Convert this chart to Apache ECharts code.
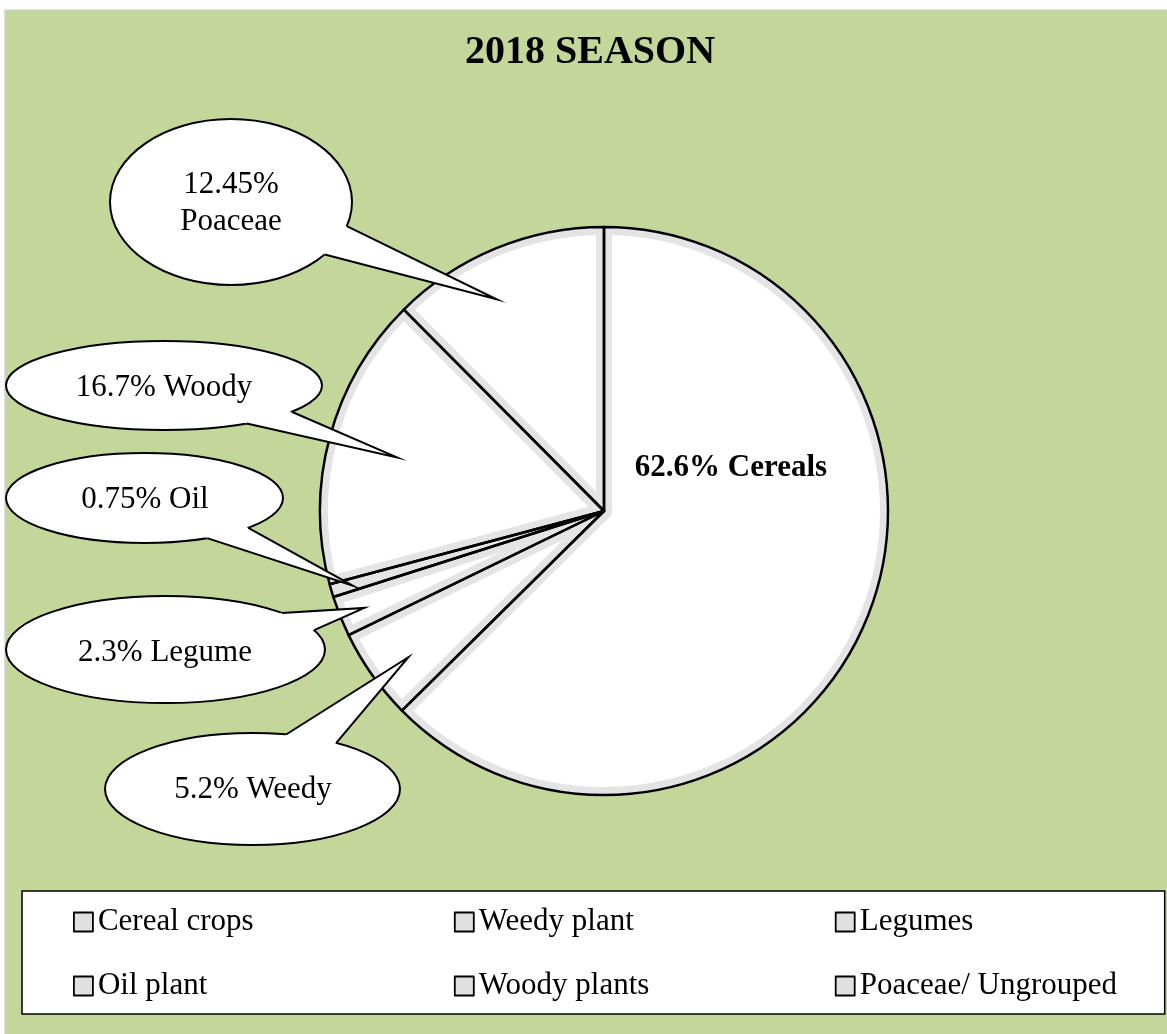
<!DOCTYPE html>
<html>
<head>
<meta charset="utf-8">
<title>2018 SEASON</title>
<script src="https://cdn.jsdelivr.net/npm/echarts@6/dist/echarts.min.js"></script>
<style>
  html, body { margin: 0; padding: 0; background: #ffffff; }
  #chart { width: 1167px; height: 1034px; }
</style>
</head>
<body>
<div id="chart"></div>
<script>
// Plant groups of the 2018 season, in slice order (clockwise from 12 o'clock)
const categories = ['Cereal crops', 'Weedy plant', 'Legumes', 'Oil plant', 'Woody plants', 'Poaceae/ Ungrouped'];
const shares = [62.6, 5.2, 2.3, 0.75, 16.7, 12.45];
const shortNames = ['Cereals', 'Weedy', 'Legume', 'Oil', 'Woody', 'Poaceae'];
const titleText = '2018 SEASON';

const SERIF = '"Liberation Serif", "Times New Roman", serif';
const FIELD = '#C4D79B';
const PIE_CENTER = [604, 511];
const PIE_R = 284;

// Speech-bubble placement for each slice: ellipse [cx, cy, rx, ry], two tail base points
// (snapped onto the ellipse), tail tip as [fraction of slice angle, fraction of radius], text anchor.
const bubbleLayout = [
  { inside: true, text: [731, 468] },
  { ell: [252.5, 789, 147.5, 56], base: [[287, 733], [338, 742]], tip: [0.42, 0.86], text: [253, 790] },
  { ell: [165.5, 649.5, 159.5, 53.5], base: [[282, 613], [315, 630]], tip: [0.47, 0.91], text: [165, 653] },
  { ell: [144.5, 498, 138.5, 45], base: [[249, 528], [207, 538]], tip: [0.385, 0.922], text: [145, 500] },
  { ell: [164, 385.5, 158, 44.5], base: [[293, 412], [248, 424]], tip: [0.49, 0.753], text: [164, 388] },
  { ell: [231, 202, 121, 83], base: [[346, 226], [324, 254]], tip: [0.40, 0.836], text: [231, 203.5], twoLines: true }
];

const chart = echarts.init(document.getElementById('chart'), null, { renderer: 'canvas' });

const sliceData = categories.map((name, i) => ({ name: name, value: shares[i] }));

const pieBase = {
  type: 'pie',
  center: PIE_CENTER,
  radius: PIE_R,
  startAngle: 90,
  clockwise: true,
  silent: true,
  animation: false,
  avoidLabelOverlap: false,
  label: { show: false },
  labelLine: { show: false },
  emphasis: { disabled: true }
};

chart.setOption({
  backgroundColor: '#ffffff',
  animation: false,
  legend: {
    data: categories.map((name, i) => ({ name: name, textStyle: { width: i % 3 === 2 ? 270 : 332 } })),
    orient: 'horizontal',
    left: 22,
    top: 891,
    width: 1060,
    padding: [11, 35, 8, 51],
    itemGap: 24,
    itemWidth: 19,
    itemHeight: 19,
    icon: 'rect',
    selectedMode: false,
    itemStyle: { color: '#e0e0e0', borderColor: '#000000', borderWidth: 1.8 },
    textStyle: { fontFamily: SERIF, fontSize: 31, color: '#000000', lineHeight: 40 },
    backgroundColor: '#ffffff',
    borderColor: '#000000',
    borderWidth: 1.5
  },
  series: [
    // white slices with the pale inner band along every edge
    Object.assign({}, pieBase, {
      name: 'slices', z: 2, data: sliceData,
      itemStyle: { color: '#ffffff', borderColor: '#e4e4e4', borderWidth: 16, borderJoin: 'round' }
    }),
    // field-coloured ring hiding the outer half of that band
    Object.assign({}, pieBase, {
      name: 'rim', z: 2, radius: [PIE_R + 1.3, PIE_R + 12],
      data: [{ name: 'rim', value: 1 }],
      itemStyle: { color: FIELD, borderWidth: 0 }
    }),
    // black slice outlines
    Object.assign({}, pieBase, {
      name: 'outline', z: 2, data: sliceData,
      itemStyle: { color: 'rgba(0,0,0,0)', borderColor: '#000000', borderWidth: 2.5 }
    })
  ]
});

// Slice geometry as laid out by the pie series
const pieData = chart.getModel().getSeriesByIndex(0).getData();

function onEllipse(e, p) {
  const t = Math.atan2((p[1] - e[1]) / e[3], (p[0] - e[0]) / e[2]);
  return [e[0] + e[2] * Math.cos(t), e[1] + e[3] * Math.sin(t)];
}

const graphics = [
  {
    type: 'rect', z: -10, silent: true,
    shape: { x: 5, y: 10, width: 1170, height: 1030 },
    style: { fill: FIELD, stroke: '#d4d4d4', lineWidth: 1.5 }
  },
  {
    type: 'text', z: 10, silent: true,
    style: {
      text: titleText, x: 590, y: 53, align: 'center', verticalAlign: 'middle',
      font: 'bold 40px ' + SERIF, fill: '#000000'
    }
  }
];

bubbleLayout.forEach((b, i) => {
  const pct = shares[i] + '%';
  if (b.inside) {
    graphics.push({
      type: 'text', z: 10, silent: true,
      style: {
        text: pct + ' ' + shortNames[i], x: b.text[0], y: b.text[1],
        align: 'center', verticalAlign: 'middle',
        font: 'bold 31px ' + SERIF, fill: '#000000'
      }
    });
    return;
  }
  const lay = pieData.getItemLayout(i);
  const a = lay.startAngle + b.tip[0] * (lay.endAngle - lay.startAngle);
  const rr = b.tip[1] * lay.r;
  const tip = [lay.cx + rr * Math.cos(a), lay.cy + rr * Math.sin(a)];
  const b1 = onEllipse(b.ell, b.base[0]);
  const b2 = onEllipse(b.ell, b.base[1]);

  graphics.push({
    type: 'ellipse', z: 10, z2: 1, silent: true,
    shape: { cx: b.ell[0], cy: b.ell[1], rx: b.ell[2], ry: b.ell[3] },
    style: { fill: '#ffffff', stroke: '#000000', lineWidth: 2 }
  });
  graphics.push({
    type: 'polygon', z: 10, z2: 2, silent: true,
    shape: { points: [b1, tip, b2, [b.ell[0], b.ell[1]]] },
    style: { fill: '#ffffff', stroke: null }
  });
  graphics.push({
    type: 'polyline', z: 10, z2: 3, silent: true,
    shape: { points: [b1, tip, b2] },
    style: { fill: null, stroke: '#000000', lineWidth: 2, lineJoin: 'miter', miterLimit: 30 }
  });
  graphics.push({
    type: 'text', z: 10, z2: 4, silent: true,
    style: {
      text: b.twoLines ? pct + '\n' + shortNames[i] : pct + ' ' + shortNames[i],
      x: b.text[0], y: b.text[1], align: 'center', verticalAlign: 'middle',
      font: '31px ' + SERIF, lineHeight: 37, fill: '#000000'
    }
  });
});

chart.setOption({ graphic: graphics });
</script>
</body>
</html>
